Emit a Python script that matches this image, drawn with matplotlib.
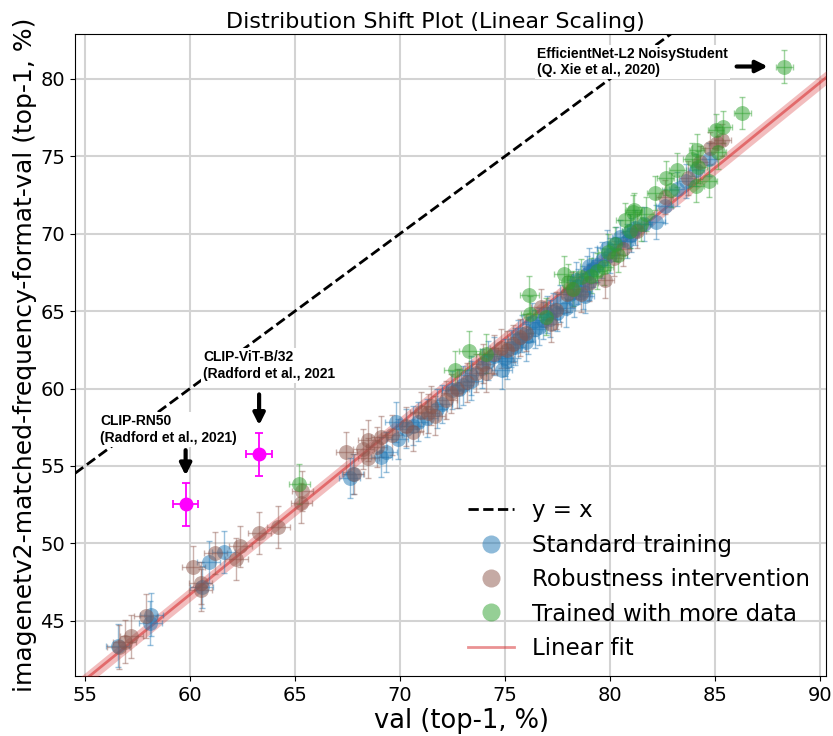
import matplotlib
matplotlib.use("Agg")
import matplotlib.pyplot as plt
from matplotlib.lines import Line2D
import numpy as np

# ---------------- data (x, y, xerr, yerr) ----------------
standard = [
    (56.55, 43.40, 0.55, 1.40), (58.15, 45.40, 0.55, 1.40), (58.10, 44.85, 0.55, 1.40),
    (60.55, 47.20, 0.55, 1.35), (60.90, 48.80, 0.55, 1.35), (61.60, 49.45, 0.55, 1.35),
    (67.60, 54.20, 0.50, 1.30), (67.75, 54.50, 0.50, 1.30), (69.35, 55.90, 0.50, 1.30),
    (69.10, 55.60, 0.50, 1.30), (69.80, 57.85, 0.50, 1.30), (69.90, 56.75, 0.50, 1.30),
    (70.30, 57.40, 0.50, 1.25), (70.85, 57.85, 0.50, 1.25), (71.75, 58.70, 0.50, 1.25),
    (72.00, 59.00, 0.50, 1.25), (72.50, 59.90, 0.50, 1.25), (73.40, 60.85, 0.50, 1.25),
    (73.40, 60.50, 0.50, 1.25), (73.90, 61.30, 0.50, 1.25), (74.85, 61.20, 0.50, 1.25),
    (75.00, 62.00, 0.45, 1.20), (75.30, 62.60, 0.45, 1.20), (75.60, 63.20, 0.45, 1.20),
    (75.80, 63.55, 0.45, 1.20), (76.00, 63.00, 0.45, 1.20), (76.45, 63.85, 0.45, 1.20),
    (76.30, 64.30, 0.45, 1.20), (76.80, 64.40, 0.45, 1.20), (77.15, 64.50, 0.45, 1.20),
    (77.30, 65.00, 0.45, 1.20), (77.60, 65.50, 0.45, 1.20), (77.90, 65.20, 0.45, 1.20),
    (78.10, 66.10, 0.45, 1.15), (78.30, 65.80, 0.45, 1.15), (78.50, 66.60, 0.45, 1.15),
    (78.70, 66.30, 0.45, 1.15), (78.90, 67.40, 0.45, 1.15), (79.00, 66.90, 0.45, 1.15),
    (79.20, 67.70, 0.45, 1.15), (79.40, 68.00, 0.45, 1.15), (79.60, 68.30, 0.45, 1.15),
    (79.85, 69.10, 0.45, 1.15), (80.00, 68.60, 0.45, 1.15), (80.30, 69.35, 0.40, 1.10),
    (80.50, 69.80, 0.40, 1.10), (80.80, 69.50, 0.40, 1.10), (80.95, 70.20, 0.40, 1.10),
    (81.20, 70.40, 0.40, 1.10), (81.60, 70.60, 0.40, 1.10), (82.20, 70.75, 0.40, 1.10),
    (82.60, 71.80, 0.40, 1.10), (83.20, 72.90, 0.40, 1.10), (83.60, 73.40, 0.40, 1.10),
    (84.10, 74.10, 0.40, 1.05), (84.70, 74.80, 0.40, 1.05), (74.20, 61.80, 0.50, 1.25),
    (74.50, 62.10, 0.50, 1.25), (75.10, 61.80, 0.45, 1.20), (73.00, 60.20, 0.50, 1.25),
    (72.80, 60.00, 0.50, 1.25), (71.30, 58.10, 0.50, 1.25), (70.60, 57.60, 0.50, 1.25),
    (77.00, 64.80, 0.45, 1.20), (78.40, 67.00, 0.45, 1.15), (79.00, 67.90, 0.45, 1.15),
    (76.60, 64.00, 0.45, 1.20), (75.50, 62.70, 0.45, 1.20), (76.10, 63.40, 0.45, 1.20),
    (77.50, 64.90, 0.45, 1.20), (78.80, 66.00, 0.45, 1.15), (81.00, 69.90, 0.40, 1.10),
]

robust = [
    (56.60, 43.30, 0.55, 1.40), (56.90, 43.65, 0.55, 1.40), (57.20, 44.00, 0.55, 1.40),
    (57.90, 45.30, 0.55, 1.40), (60.15, 48.50, 0.55, 1.35), (60.50, 47.45, 0.55, 1.35),
    (60.50, 47.00, 0.55, 1.35), (61.20, 49.40, 0.55, 1.35), (62.40, 49.80, 0.55, 1.35),
    (62.20, 49.00, 0.55, 1.35), (63.30, 50.65, 0.55, 1.35), (64.20, 51.05, 0.55, 1.35),
    (65.35, 53.40, 0.50, 1.30), (65.30, 52.60, 0.50, 1.30), (67.45, 55.90, 0.50, 1.30),
    (67.80, 54.50, 0.50, 1.30), (68.25, 56.10, 0.50, 1.30), (68.50, 56.65, 0.50, 1.30),
    (68.50, 55.50, 0.50, 1.30), (69.10, 56.90, 0.50, 1.30), (70.30, 57.55, 0.50, 1.25),
    (70.60, 57.20, 0.50, 1.25), (71.35, 58.40, 0.50, 1.25), (71.65, 58.25, 0.50, 1.25),
    (71.50, 58.90, 0.50, 1.25), (72.20, 59.25, 0.50, 1.25), (72.45, 59.70, 0.50, 1.25),
    (72.70, 60.00, 0.50, 1.25), (73.20, 60.40, 0.50, 1.25), (73.95, 61.60, 0.50, 1.25),
    (74.10, 61.00, 0.50, 1.25), (74.50, 62.20, 0.50, 1.25), (74.80, 62.60, 0.50, 1.25),
    (75.10, 62.50, 0.45, 1.20), (75.40, 62.90, 0.45, 1.20), (75.70, 63.30, 0.45, 1.20),
    (76.70, 65.25, 0.45, 1.20), (77.45, 65.05, 0.45, 1.20), (77.20, 64.20, 0.45, 1.20),
    (77.95, 66.10, 0.45, 1.15), (78.20, 66.40, 0.45, 1.15), (78.60, 66.10, 0.45, 1.15),
    (79.00, 66.80, 0.45, 1.15), (79.75, 67.00, 0.45, 1.15), (80.20, 68.40, 0.40, 1.10),
    (80.60, 69.00, 0.40, 1.10), (81.30, 70.20, 0.40, 1.10), (82.60, 72.35, 0.40, 1.10),
    (83.70, 73.60, 0.40, 1.10), (84.30, 74.60, 0.40, 1.05), (84.75, 75.55, 0.40, 1.05),
    (85.10, 75.85, 0.40, 1.05), (85.35, 76.05, 0.40, 1.05), (76.00, 63.60, 0.45, 1.20),
    (73.60, 61.00, 0.50, 1.25), (71.00, 58.50, 0.50, 1.25), (69.60, 57.00, 0.50, 1.30),
    (68.90, 56.20, 0.50, 1.30),
]

more_data = [
    (65.20, 53.85, 0.50, 1.30), (72.60, 61.20, 0.50, 1.25), (73.30, 62.45, 0.50, 1.25),
    (74.10, 62.25, 0.50, 1.25), (76.15, 66.05, 0.45, 1.20), (76.20, 64.80, 0.45, 1.20),
    (76.95, 64.65, 0.45, 1.20), (78.25, 66.45, 0.45, 1.15), (79.10, 67.30, 0.45, 1.15),
    (79.70, 67.85, 0.45, 1.15), (79.90, 68.80, 0.45, 1.15), (80.40, 68.60, 0.40, 1.10),
    (80.25, 69.35, 0.40, 1.10), (80.95, 70.20, 0.40, 1.10), (81.10, 71.40, 0.40, 1.10),
    (81.15, 71.50, 0.40, 1.10), (81.70, 71.30, 0.40, 1.10), (81.50, 70.60, 0.40, 1.10),
    (82.15, 72.60, 0.40, 1.10), (82.65, 73.60, 0.40, 1.10), (83.20, 74.10, 0.40, 1.10),
    (84.15, 75.40, 0.40, 1.05), (84.20, 74.30, 0.40, 1.05), (84.70, 73.40, 0.40, 1.05),
    (84.10, 73.10, 0.40, 1.05), (85.05, 76.70, 0.40, 1.05), (85.40, 76.90, 0.40, 1.05),
    (85.15, 75.25, 0.40, 1.05), (86.30, 77.80, 0.40, 1.05), (88.30, 80.80, 0.40, 1.05),
    (78.00, 66.90, 0.45, 1.15), (77.80, 67.40, 0.45, 1.15), (79.40, 67.60, 0.45, 1.15),
    (82.90, 72.80, 0.40, 1.10), (83.90, 74.80, 0.40, 1.05), (80.70, 70.90, 0.40, 1.10),
    (78.60, 67.20, 0.45, 1.15),
]

clip_models = [
    (59.79, 52.51, 0.60, 1.40),   # CLIP-RN50
    (63.29, 55.75, 0.62, 1.40),   # CLIP-ViT-B/32
]

fit_slope = 1.102
fit_intercept = -19.42
fit_band = 0.45

xlim = (54.52, 90.29)
ylim = (41.43, 82.9)
xticks = [55, 60, 65, 70, 75, 80, 85, 90]
yticks = [45, 50, 55, 60, 65, 70, 75, 80]

# ---------------- plot ----------------
fig = plt.figure(figsize=(8.33, 7.36), dpi=100)
ax = fig.add_axes([0.090, 0.0815, 0.9016, 0.8723])

ax.grid(True, color="#d3d3d3", lw=1.5, zorder=0)
ax.set_axisbelow(True)

# y = x
ax.plot(xlim, xlim, ls="--", color="black", lw=2, zorder=2)

# linear fit
xs = np.array(xlim)
ys = fit_slope * xs + fit_intercept
ax.fill_between(xs, ys - fit_band, ys + fit_band, color="tab:red", alpha=0.3, lw=0, zorder=3)
ax.plot(xs, ys, color="tab:red", alpha=0.55, lw=2, zorder=3)

def draw(series, color):
    x, y, xe, ye = zip(*series)
    ax.errorbar(x, y, xerr=xe, yerr=ye, fmt="none", ecolor=color, alpha=0.45,
                elinewidth=1, capsize=2.5, capthick=1, zorder=4)
    ax.scatter(x, y, s=115, color=color, alpha=0.5, lw=0, zorder=5)

draw(standard, "tab:blue")
draw(robust, "tab:brown")
draw(more_data, "tab:green")

cx, cy, cxe, cye = zip(*clip_models)
ax.errorbar(cx, cy, xerr=cxe, yerr=cye, fmt="o", color="magenta", ms=9,
            elinewidth=1.3, capsize=3, capthick=1.3, zorder=6)

# annotations
afont = dict(family=["Liberation Sans", "DejaVu Sans"], fontsize=10, fontweight="bold")
bbox = dict(facecolor="white", edgecolor="none", pad=1.5)
ax.text(55.71, 58.33, "CLIP-RN50\n(Radford et al., 2021)", va="top", ha="left",
        bbox=bbox, zorder=7, **afont)
ax.text(60.62, 62.46, "CLIP-ViT-B/32\n(Radford et al., 2021", va="top", ha="left",
        bbox=bbox, zorder=7, **afont)
ax.text(76.52, 82.08, "EfficientNet-L2 NoisyStudent\n(Q. Xie et al., 2020)", va="top",
        ha="left", bbox=bbox, zorder=7, **afont)

arrow = dict(arrowstyle="-|>", color="black", lw=3, mutation_scale=17)
ax.annotate("", xy=(59.79, 54.2), xytext=(59.79, 56.2), arrowprops=arrow, zorder=8)
ax.annotate("", xy=(63.29, 57.45), xytext=(63.29, 59.8), arrowprops=arrow, zorder=8)
ax.annotate("", xy=(87.65, 80.8), xytext=(85.9, 80.8), arrowprops=arrow, zorder=8)

ax.set_xlim(*xlim)
ax.set_ylim(*ylim)
ax.set_xticks(xticks)
ax.set_yticks(yticks)
ax.tick_params(labelsize=14)
ax.set_xlabel("val (top-1, %)", fontsize=18.5, labelpad=2, x=0.515)
ax.set_ylabel("imagenetv2-matched-frequency-format-val (top-1, %)", fontsize=18, labelpad=2)
ax.set_title("Distribution Shift Plot (Linear Scaling)", fontsize=16, pad=4, x=0.48)

handles = [
    Line2D([], [], ls="--", color="black", lw=2),
    Line2D([], [], ls="none", marker="o", ms=13, color="tab:blue", alpha=0.5, mew=0),
    Line2D([], [], ls="none", marker="o", ms=13, color="tab:brown", alpha=0.5, mew=0),
    Line2D([], [], ls="none", marker="o", ms=13, color="tab:green", alpha=0.5, mew=0),
    Line2D([], [], color="tab:red", alpha=0.5, lw=2),
]
labels = ["y = x", "Standard training", "Robustness intervention",
          "Trained with more data", "Linear fit"]
ax.legend(handles, labels, loc="lower right", frameon=False, fontsize=16.5,
          borderaxespad=0.3)

fig.savefig("out.png", dpi=100)
